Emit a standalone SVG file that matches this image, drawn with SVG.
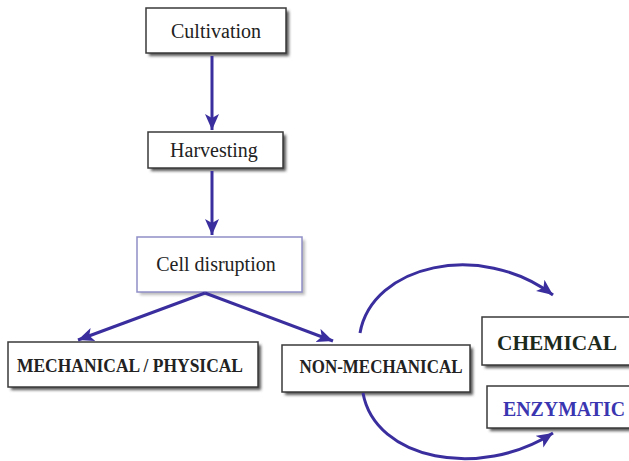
<svg xmlns="http://www.w3.org/2000/svg" width="629" height="461" viewBox="0 0 629 461">
<style>
.box{fill:#fff;stroke:#3a3a3a;stroke-width:1.5}
.shadow{fill:#555;filter:url(#blur)}
.t{font-family:"Liberation Serif","Times New Roman",serif;fill:#222;text-anchor:middle}
.b{font-weight:bold}
.c{fill:none;stroke:#3a2e9e;stroke-width:3}
</style>
<defs>
<filter id="blur" x="-10%" y="-30%" width="120%" height="160%"><feGaussianBlur stdDeviation="1.8"/></filter>
<marker id="ah" markerUnits="userSpaceOnUse" markerWidth="18" markerHeight="16" refX="16" refY="7" orient="auto">
<path d="M0,0 L16,7 L0,14 L4,7 z" fill="#3a2e9e"/>
</marker>
</defs>
<g id="cultivation">
<rect class="shadow" x="149" y="11" width="140" height="45"/>
<rect class="box" x="146" y="8" width="140" height="45"/>
<text class="t" x="216" y="38" font-size="20">Cultivation</text>
</g>
<g id="harvesting">
<rect class="shadow" x="151" y="135" width="135" height="36"/>
<rect class="box" x="148" y="132" width="135" height="36"/>
<text class="t" x="214" y="157" font-size="20">Harvesting</text>
</g>
<g id="cell-disruption">
<rect class="shadow" x="140" y="240" width="165" height="55" opacity="0.4"/>
<rect class="box" x="137" y="237" width="165" height="55" style="stroke:#8f8fc8"/>
<text class="t" x="216" y="271" font-size="20">Cell disruption</text>
</g>
<g id="mechanical">
<rect class="shadow" x="11" y="345" width="250" height="45"/>
<rect class="box" x="8" y="342" width="250" height="45"/>
<text class="t b" x="130" y="372" font-size="19" textLength="226" lengthAdjust="spacingAndGlyphs">MECHANICAL / PHYSICAL</text>
</g>
<g id="non-mechanical">
<rect class="shadow" x="285" y="348" width="188" height="47"/>
<rect class="box" x="282" y="345" width="188" height="47"/>
<text class="t b" x="381" y="373" font-size="19" textLength="163" lengthAdjust="spacingAndGlyphs">NON-MECHANICAL</text>
</g>
<g id="chemical">
<rect class="shadow" x="485" y="320" width="150" height="48"/>
<rect class="box" x="482" y="317" width="150" height="48"/>
<text class="t b" x="557" y="350" font-size="22" style="fill:#1c2a1c" textLength="120" lengthAdjust="spacingAndGlyphs">CHEMICAL</text>
</g>
<g id="enzymatic">
<rect class="shadow" x="490" y="389" width="150" height="42"/>
<rect class="box" x="487" y="386" width="150" height="42"/>
<text class="t b" x="564" y="416" font-size="20" style="fill:#3a35b0" textLength="122" lengthAdjust="spacingAndGlyphs">ENZYMATIC</text>
</g>
<g id="connectors">
<line class="c" x1="212" y1="56" x2="212" y2="130" marker-end="url(#ah)"/>
<line class="c" x1="212" y1="171" x2="212" y2="235" marker-end="url(#ah)"/>
<line class="c" x1="205" y1="293" x2="78" y2="340" marker-end="url(#ah)"/>
<line class="c" x1="205" y1="293" x2="333" y2="341" marker-end="url(#ah)"/>
<path class="c" d="M360,333 C372,265 480,240 553,295" marker-end="url(#ah)"/>
<path class="c" d="M363,393 C375,460 480,480 553,433" marker-end="url(#ah)"/>
</g>
</svg>
